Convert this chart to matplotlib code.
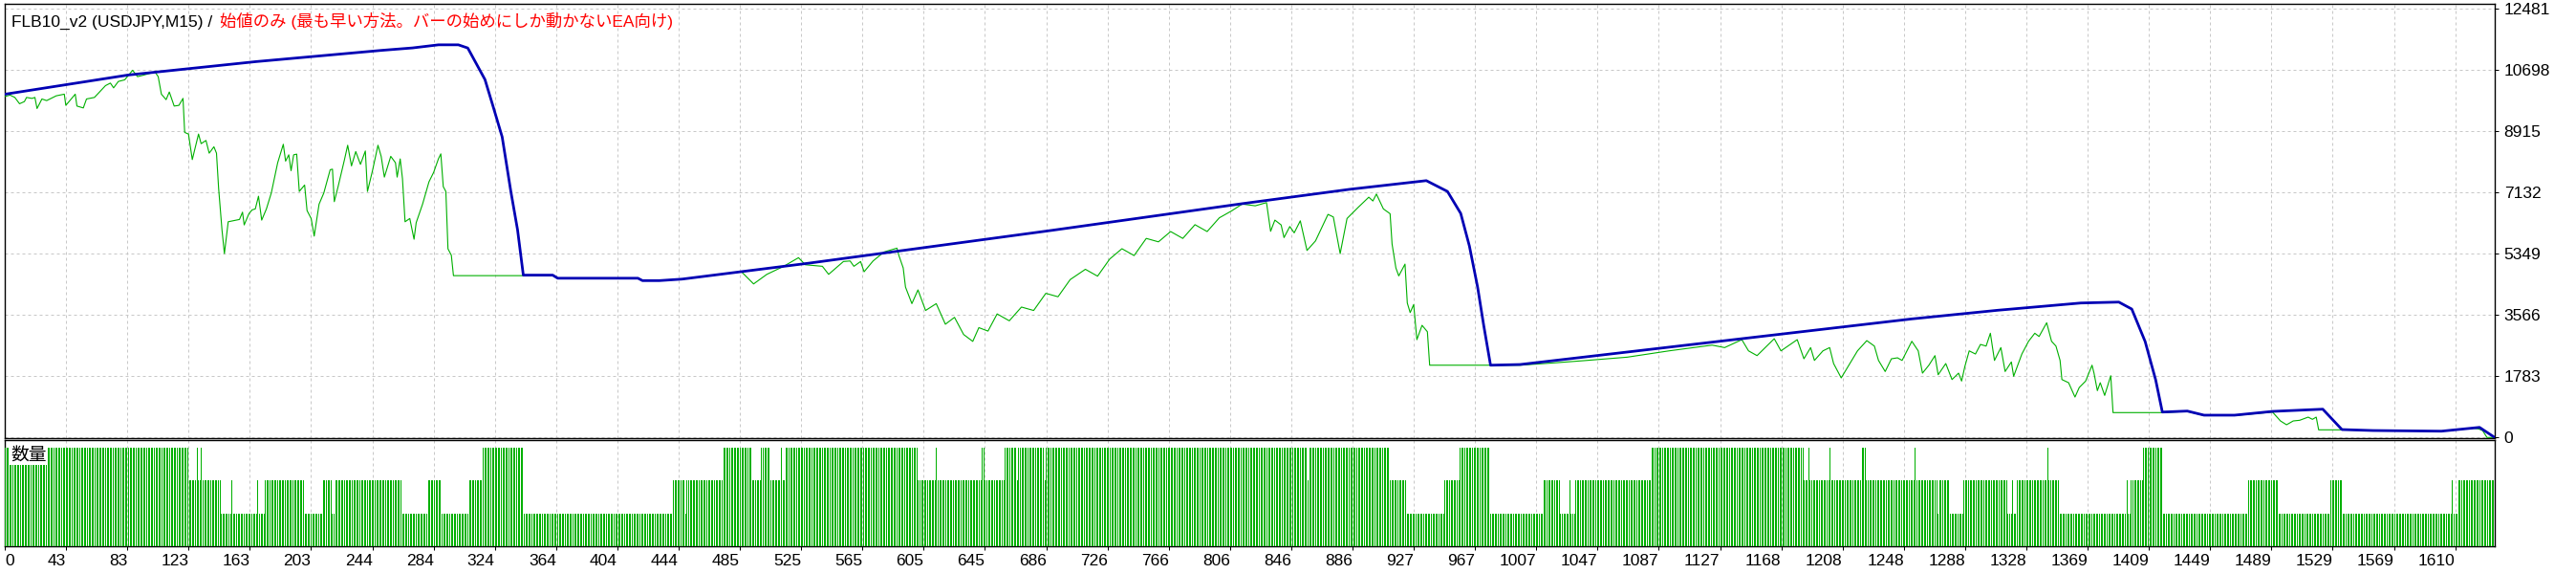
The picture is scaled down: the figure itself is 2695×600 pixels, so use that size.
import numpy as np
import matplotlib
matplotlib.use("Agg")
import matplotlib.pyplot as plt

plt.rcParams['font.family'] = ['Liberation Sans', 'Noto Sans CJK JP', 'DejaVu Sans']

# ---- text ----
title_black = "FLB10_v2 (USDJPY,M15) /"
title_red = "始値のみ (最も早い方法。バーの始めにしか動かないEA向け)"
vol_label = "数量"

n_trades = 1636
y_ticks = [0, 1783, 3566, 5349, 7132, 8915, 10698, 12481]
x_labels = ["0", "43", "83", "123", "163", "203", "244", "284", "324", "364",
            "404", "444", "485", "525", "565", "605", "645", "686", "726", "766",
            "806", "846", "886", "927", "967", "1007", "1047", "1087", "1127", "1168",
            "1208", "1248", "1288", "1328", "1369", "1409", "1449", "1489", "1529", "1569",
            "1610"]

# ---- balance (blue) ----
bal_t = [0, 81, 165, 248, 268, 285, 298, 304.2, 315.5, 321.2, 326.8, 332.5, 336.9, 340.7,
         360, 363.3, 416, 419, 430, 445, 528.4, 688, 813.5, 883.6, 934, 947.9, 956.6, 962.3,
         967.7, 971.7, 976.2, 995.6, 1253, 1309, 1364, 1389, 1397.5, 1406.3, 1413.2, 1417.6,
         1434, 1445, 1465, 1490, 1523, 1535.6, 1556, 1601, 1626, 1636]
bal_v = [10000, 10560, 10950, 11280, 11350, 11440, 11440, 11347, 10428, 9592, 8757, 7168, 6054, 4730,
         4730, 4640, 4640, 4570, 4570, 4614, 5079, 6035, 6815, 7230, 7483, 7168, 6528, 5580,
         4382, 3268, 2106, 2126, 3455, 3705, 3918, 3945, 3742, 2795, 1680, 741,
         770, 650, 650, 760, 825, 231, 203, 184, 295, 0]

# ---- equity (green) ----
eq_t = [0, 3.5, 6.6, 9.7, 12.9, 14.3, 17.9, 19.8, 21.2, 24.4, 27.5, 33.8, 39.1, 40.1, 46.3, 47.4,
        51.6, 53.7, 58.9, 66.2, 69.4, 71.5, 74.6, 78.8, 84, 87.2, 91.4, 98.7, 100.8, 102.9, 106,
        108.1, 111.3, 114.4, 117.1, 118.2, 120.7, 123.2, 127.3, 129, 132.2, 134.3, 137.4, 139.1,
        140.5, 142.7, 144.3, 146.8, 154.2, 156.2, 157.3, 160.4, 162.5, 164.6, 166.7, 168.8, 171.9,
        175.1, 179.3, 183, 184.5, 186.6, 188.1, 189.8, 191.8, 193.5, 197, 198.6, 201.3, 203.3,
        206.5, 209.6, 213.8, 215.3, 216.5, 219, 223.2, 225.3, 227.8, 230.6, 233.7, 236.9, 238.3,
        241.6, 245.2, 247.3, 249.4, 253.6, 256.7, 257.8, 259.8, 261.3, 263, 266.1, 268.9, 270.3,
        274.5, 278.7, 281.8, 284.9, 286.5, 288.1, 289.8, 291.2, 293.4, 294.8, 340.7,
        345, 360, 363.3, 416, 419, 430, 445, 484,
        492, 500.7, 511.8, 521.5, 526, 537.2, 541.3, 551, 555.4, 557.9, 562.3, 564.6, 570.5,
        577.7, 586.2, 587.4, 590.3, 591.8,
        596, 600, 605, 612, 618, 624, 630, 636, 640, 646, 652, 660, 668, 676, 684, 692, 700,
        710, 718, 726, 734, 742, 750, 758, 766, 774, 782, 790, 798, 806, 813,
        821.6, 829, 831.7, 834.5, 838.6, 840.5, 844.3, 847.2, 851.2, 855.6, 861.2, 869.4, 872.9,
        877.4, 881.9, 889.2, 896.2, 898.9, 901.2, 905.8, 910.2, 911.5, 914, 915.9, 920, 921.5,
        923.4, 925.7, 927.8, 931.2, 934.7, 936.2, 976.2, 995.6, 1020, 1038, 1066, 1093.5,
        1121.8, 1130, 1141.3, 1145.7, 1151.3, 1162.6, 1167, 1177.7, 1182.1, 1186.5, 1189, 1194.6,
        1199, 1201.6, 1206.6, 1210.4, 1217.3, 1223.4, 1228.4, 1231.1, 1235.5, 1239.6, 1243.6,
        1246.6, 1253, 1257.2, 1260, 1264.2, 1268.2, 1270.3, 1275.3, 1279.4, 1283.7, 1285.7,
        1287.8, 1290.7, 1294.8, 1298.1, 1301.8, 1304.6, 1307.3, 1311.5, 1314.3, 1318.4, 1319.9,
        1325.3, 1329.7, 1333.8, 1336.6, 1341.6, 1344.8, 1347.7, 1350.4, 1351.6, 1356, 1360.2,
        1363, 1367.2, 1371.4, 1372.7, 1374.9, 1376.8, 1379.7, 1383.7, 1385.2, 1417.6, 1434,
        1445, 1465, 1490, 1495.2, 1499.2, 1503.6, 1507.8, 1513.4, 1516.2, 1518.7, 1520.3,
        1535.6, 1556, 1601, 1622, 1625.3, 1628, 1630.9, 1636]
eq_v = [9935, 9974, 9907, 9723, 9787, 9907, 9879, 9907, 9584, 9862, 9815, 9954, 10002, 9676, 10002, 9656,
        9601, 9862, 9907, 10252, 10325, 10186, 10372, 10420, 10698, 10512, 10559, 10651, 10512, 10002, 9843,
        10066, 9656, 9676, 9879, 8887, 8840, 8096, 8840, 8561, 8653, 8283, 8469, 8283,
        7260, 6054, 5357, 6285, 6352, 6564, 6193, 6519, 6631, 6659, 7029, 6333, 6659,
        7121, 8004, 8542, 8052, 8235, 7773, 8235, 8255, 7168, 7355, 6611, 6380, 5867,
        6798, 7121, 7801, 7817, 6870, 7308, 8096, 8514, 7912, 8330, 7957, 8347, 7168,
        7773, 8514, 8191, 7586, 8191, 8004, 7586, 8116, 7539, 6285, 6380, 5776, 6257,
        6798, 7447, 7726, 8116, 8263, 7308, 7168, 5496, 5310, 4715, 4715,
        4725, 4730, 4640, 4640, 4570, 4570, 4610, 4830,
        4474, 4753, 4987, 5238, 5032, 4987, 4753, 5126, 5143, 4987, 5126, 4828, 5143,
        5405, 5516, 5310, 4940, 4382,
        3900, 4300, 3700, 3900, 3300, 3500, 3000, 2800, 3200, 3100, 3600, 3400, 3800, 3700, 4200, 4100, 4600,
        4900, 4700, 5200, 5500, 5300, 5800, 5700, 6000, 5800, 6200, 6000, 6400, 6600, 6800,
        6750, 6843, 6007, 6333, 6193, 5823, 6146, 5962, 6313, 5449, 5728, 6500, 6425,
        5357, 6380, 6703, 7001, 6890, 7093, 6659, 6519, 5636, 4940, 4708, 5051, 3917,
        3639, 3873, 2850, 3268, 3081, 2106, 2106, 2106, 2180, 2240, 2340, 2524,
        2691, 2619, 2850, 2524, 2385, 2878, 2524, 2850, 2293, 2619, 2245, 2524,
        2619, 2154, 1736, 2014, 2524, 2822, 2663, 2245, 1922, 2293, 2321,
        2245, 2803, 2524, 1875, 2106, 2385, 1828, 2154, 1688, 1875, 1644,
        2062, 2524, 2432, 2711, 2663, 3037, 2245, 2619, 1922, 2201, 1783,
        2432, 2803, 3037, 2942, 3343, 2803, 2663, 2245, 1688, 1596, 1178,
        1457, 1644, 2106, 1875, 1365, 1596, 1226, 1800, 725, 725, 760,
        640, 640, 740, 482, 371, 482, 501, 593, 529, 593, 223,
        223, 203, 184, 270, 251, 203, 0, 0]

# ---- lot size per trade, run-length: start trade and level ----
vol_start = [0, 121, 126, 127, 129, 130, 142, 149, 150, 166, 167, 171, 197, 209, 215, 217, 261, 278,
             287, 305, 314, 341, 439, 447, 448, 472, 491, 497, 503, 510, 511, 513, 600, 612, 613,
             642, 644, 657, 665, 666, 683, 684, 856, 857, 910, 921, 946, 956, 976, 1011, 1022,
             1028, 1029, 1032, 1082, 1182, 1185, 1186, 1199, 1200, 1220, 1223, 1255, 1256, 1270,
             1271, 1278, 1287, 1316, 1319, 1320, 1322, 1342, 1343, 1350, 1394, 1395, 1397, 1405,
             1418, 1474, 1494, 1528, 1536, 1608, 1609, 1612]
vol_level = [3, 2, 3, 2, 3, 2, 1, 2, 1, 2, 1, 2, 1, 2, 1, 2, 1, 2,
             1, 2, 3, 1, 2, 1, 2, 3, 2, 3, 2, 3, 2, 3, 2, 3, 2,
             3, 2, 3, 2, 3, 2, 3, 2, 3, 2, 1, 2, 3, 1, 2, 1,
             2, 1, 2, 3, 2, 3, 2, 3, 2, 3, 2, 3, 2, 1,
             2, 1, 2, 1, 2, 1, 2, 3, 2, 1, 2, 1, 2, 3,
             1, 2, 1, 2, 1, 2, 1, 2]

run_len = np.diff(vol_start + [n_trades])
vol = np.repeat(vol_level, run_len)
trades = np.arange(n_trades)

W, H = 2695, 600
fig = plt.figure(figsize=(W / 100, H / 100), dpi=100)
ax = fig.add_axes([5 / W, 1 - 457.7 / H, 2605 / W, 453.7 / H])
axv = fig.add_axes([5 / W, 1 - 570.7 / H, 2605 / W, 110.4 / H], sharex=ax)

blue = '#0000b4'
green = '#00b000'
grid_kw = dict(color='#c8c8c8', linestyle=(0, (3, 3)), linewidth=0.72)

ax.plot(eq_t, eq_v, color=green, lw=0.8, zorder=3)
ax.plot(bal_t, bal_v, color=blue, lw=2.0, zorder=4)
ax.set_ylim(-11, 12634)
ax.set_xlim(0, n_trades)

axv.vlines(trades, 0, vol, colors=green, linewidth=0.72, antialiased=False, zorder=3)
axv.set_ylim(0, 3.235)

tick_pos = np.arange(len(x_labels)) * 40.25
axv.set_xticks(tick_pos)
axv.set_xticklabels(x_labels)
for i, lab in enumerate(axv.get_xticklabels()):
    lab.set_ha('left' if i == 0 else 'right')

ax.set_yticks(y_ticks)
ax.set_yticklabels([str(v) for v in y_ticks])
ax.yaxis.tick_right()
ax.tick_params(axis='y', length=3, width=0.72, pad=4, labelsize=12.5, direction='out')
ax.tick_params(axis='x', length=0, labelbottom=False)
axv.tick_params(axis='x', length=3, width=0.72, pad=3, labelsize=12.5, direction='out')
axv.set_yticks([])

for a in (ax, axv):
    a.grid(True, axis='x', **grid_kw)
    a.set_axisbelow(True)
    for s in a.spines.values():
        s.set_linewidth(1.0)
        s.set_color('black')
ax.grid(True, axis='y', **grid_kw)

axv.text(6 / 2605, (570.7 - 468) / 110.4, vol_label, transform=axv.transAxes,
         fontsize=13.5, va='top', ha='left', zorder=5,
         bbox=dict(facecolor='white', edgecolor='none', pad=0.5))

ty = 1 - 28 / H
t1 = fig.text(12 / W, ty, title_black, color='black', fontsize=12.5, va='baseline')
fig.canvas.draw()
bb = t1.get_window_extent()
fig.text((bb.x1 + 8) / W, ty, title_red, color='#ff0000', fontsize=12.5, va='baseline')

fig.savefig('out.png', dpi=100)
